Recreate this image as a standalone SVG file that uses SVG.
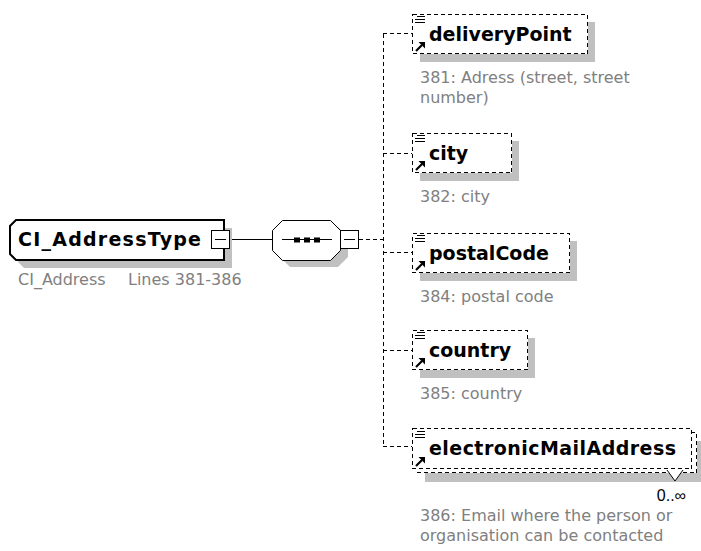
<svg xmlns="http://www.w3.org/2000/svg" xmlns:xlink="http://www.w3.org/1999/xlink" width="701" height="551" viewBox="0 0 701 551">
<defs>
<style>
.bg{fill:#ffffff}
.shadow{fill:#c0c0c0;stroke:none}
.box{fill:#ffffff;stroke:#000000;stroke-width:1;stroke-dasharray:4 3;shape-rendering:crispEdges}
.solid{fill:#ffffff;stroke:#000000;stroke-width:1}
.conn{fill:none;stroke:#000000;stroke-width:1;shape-rendering:crispEdges}
.dconn{fill:none;stroke:#000000;stroke-width:1;stroke-dasharray:4 3;shape-rendering:crispEdges}
.name{font-family:"DejaVu Sans",Verdana,sans-serif;font-weight:bold;font-size:19px;fill:#000000}
.desc{font-family:"DejaVu Sans",Verdana,sans-serif;font-size:16px;fill:#808080}
.occ{font-family:"Liberation Sans",Arial,sans-serif;font-size:16px;fill:#000000}
</style>
<g id="elemIcon">
<rect x="1" y="1" width="12" height="10" fill="#ffffff"/>
<rect x="1" y="27" width="12" height="11" fill="#ffffff"/>
<path d="M5 2.5H13M3 5.5H13M3 8.5H13" stroke="#000" stroke-width="1.3" fill="none" shape-rendering="crispEdges"/>
<path d="M4 37L10 31" stroke="#000" stroke-width="2.2" fill="none"/>
<path d="M13 28L13 34.5L6.5 28Z" fill="#000"/>
</g>
</defs>
<rect class="bg" x="0" y="0" width="701" height="551"/>

<g id="connectors">
<path class="conn" d="M229 239.5H272"/>
<path class="dconn" d="M359 239.5H383"/>
<path class="dconn" d="M383.5 33.5V446.5"/>
<path class="dconn" d="M383 33.5H412"/>
<path class="dconn" d="M383 153.5H412"/>
<path class="dconn" d="M383 252.5H412"/>
<path class="dconn" d="M383 350.5H412"/>
<path class="dconn" d="M383 446.5H412"/>
</g>

<g id="node-CI_AddressType">
<polygon class="shadow" points="24,228 232,228 232,268 24,268 18,262 18,234"/>
<polygon points="16,220 224,220 224,260 16,260 10,254 10,226" fill="#ffffff" stroke="#000" stroke-width="2"/>
<text class="name" x="18" y="246" textLength="183" lengthAdjust="spacing">CI_AddressType</text>
<rect class="solid" x="211.5" y="230.5" width="18" height="18"/>
<path class="conn" d="M215 239.5H226"/>
<text class="desc" x="18" y="285">CI_Address<tspan x="128">Lines 381-386</tspan></text>
</g>

<g id="node-sequence">
<polygon class="shadow" points="290,227 338,227 348,237 348,257 338,267 290,267 280,257 280,237"/>
<polygon class="solid" points="282.5,220.5 330.5,220.5 340.5,230.5 340.5,250.5 330.5,260.5 282.5,260.5 272.5,250.5 272.5,230.5"/>
<path class="conn" d="M282 239.5H332"/>
<rect x="294" y="237.5" width="6" height="5" fill="#000"/>
<rect x="304" y="237.5" width="6" height="5" fill="#000"/>
<rect x="314" y="237.5" width="6" height="5" fill="#000"/>
<rect class="solid" x="340.5" y="230.5" width="18" height="18"/>
<path class="conn" d="M344 239.5H355"/>
</g>

<g id="node-deliveryPoint">
<rect class="shadow" x="420" y="22" width="175" height="40"/>
<rect class="box" x="412.5" y="14.5" width="175" height="39"/>
<use xlink:href="#elemIcon" x="412" y="14"/>
<text class="name" x="429" y="41">deliveryPoint</text>
<text class="desc" x="420" y="83">381: Adress (street, street</text>
<text class="desc" x="420" y="103">number)</text>
</g>

<g id="node-city">
<rect class="shadow" x="420" y="141" width="99" height="40"/>
<rect class="box" x="412.5" y="133.5" width="99" height="39"/>
<use xlink:href="#elemIcon" x="412" y="133"/>
<text class="name" x="429" y="160">city</text>
<text class="desc" x="420" y="202">382: city</text>
</g>

<g id="node-postalCode">
<rect class="shadow" x="420" y="241" width="157" height="40"/>
<rect class="box" x="412.5" y="233.5" width="157" height="39"/>
<use xlink:href="#elemIcon" x="412" y="233"/>
<text class="name" x="429" y="260">postalCode</text>
<text class="desc" x="420" y="302">384: postal code</text>
</g>

<g id="node-country">
<rect class="shadow" x="420" y="338" width="115" height="40"/>
<rect class="box" x="412.5" y="330.5" width="115" height="39"/>
<use xlink:href="#elemIcon" x="412" y="330"/>
<text class="name" x="429" y="357">country</text>
<text class="desc" x="420" y="399">385: country</text>
</g>

<g id="node-electronicMailAddress">
<rect class="shadow" x="425" y="441" width="276" height="41"/>
<rect class="box" x="417.5" y="432.5" width="279" height="40"/>
<rect class="box" x="412.5" y="428.5" width="279" height="40"/>
<use xlink:href="#elemIcon" x="412" y="429"/>
<text class="name" x="429" y="455" textLength="247" lengthAdjust="spacing">electronicMailAddress</text>
<polyline points="667,470 675,481 683,470" fill="#ffffff" stroke="#000" stroke-width="1"/>
<text class="occ" x="686" y="501" text-anchor="end">0..∞</text>
<text class="desc" x="420" y="521">386: Email where the person or</text>
<text class="desc" x="420" y="541">organisation can be contacted</text>
</g>
</svg>
